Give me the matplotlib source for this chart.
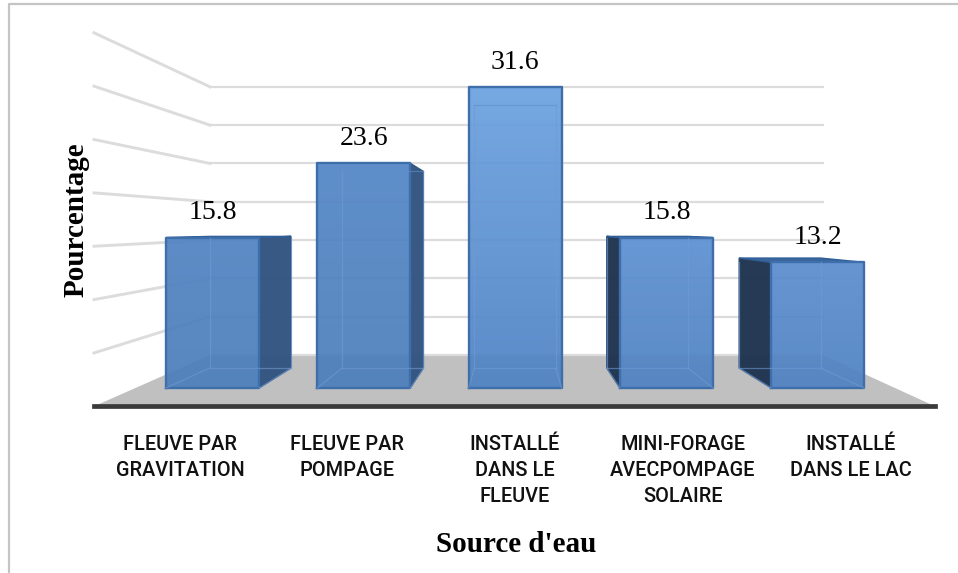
import numpy as np
import matplotlib
matplotlib.use('Agg')
import matplotlib.pyplot as plt
from matplotlib.colors import LinearSegmentedColormap

# Data
categories = ['FLEUVE PAR\nGRAVITATION', 'FLEUVE PAR\nPOMPAGE', 'INSTALLÉ\nDANS LE\nFLEUVE',
              'MINI-FORAGE\nAVECPOMPAGE\nSOLAIRE', 'INSTALLÉ\nDANS LE LAC']
values = [15.8, 23.6, 31.6, 15.8, 13.2]
grid_values = [0, 5, 10, 15, 20, 25, 30, 35]

# Layout: x is in pixels, y is in percent
W, H = 958, 573
px_per_unit = 9.52
base_px = 388
bar_left0 = 166
bar_step = 151.3
bar_width = 93
vp_x = 515
vp_bar = 16.8      # vanishing height of the bars, in percent
depth_bar = 0.875
label_x = [180, 347, 515, 683, 851]

top_colors = ['#5083c2', '#5386c6', '#6ba1e0', '#5c90d2', '#5a8dcf']
bottom_colors = ['#4c7eba', '#4c7eba', '#4f83c4', '#4f82c2', '#4f82c2']
edge = '#3f6fab'
grid_col = '#dcdcdc'


def depth_x(x, s):
    return vp_x + (x - vp_x) * s


def depth_y(v, s, vp=vp_bar):
    return vp + (v - vp) * s


def back_y(g):
    return depth_y(g, 0.805, 17.75)


def front_y(g):
    return depth_y(g, 1.121, 15.9)


def px_to_v(y):
    return (base_px - y) / px_per_unit


fig = plt.figure(figsize=(W / 100, H / 100), dpi=100)
ax = fig.add_axes([0, 0, 1, 1])
ax.set_xlim(0, W)
ax.set_ylim(px_to_v(H), px_to_v(0))
ax.axis('off')

# outer frame of the picture
ax.plot([9, 9, W], [px_to_v(H), px_to_v(4), px_to_v(4)], color='#c4c4c4', lw=1.6, zorder=1)

# floor
wall_left, wall_right = 94, 935
ax.fill([wall_left, 210, 823, wall_right],
        [front_y(0), back_y(0), back_y(0), front_y(0)],
        color='#c0c0c0', lw=0, zorder=1)
ax.plot([wall_left, wall_right], [front_y(0)] * 2, color='#3a3a3a', lw=3.4, zorder=2)

# gridlines on the back and left walls
for g in grid_values:
    ax.plot([210, 823], [back_y(g), back_y(g)], color=grid_col, lw=1.6, zorder=2)
    if g > 0:
        ax.plot([wall_left, 210], [front_y(g), back_y(g)], color=grid_col, lw=2.1, zorder=2)

# bars
for i, v in enumerate(values):
    x0 = bar_left0 + bar_step * i
    x1 = x0 + bar_width
    bx0, bx1 = depth_x(x0, depth_bar), depth_x(x1, depth_bar)
    by0, by1 = depth_y(0, depth_bar), depth_y(v, depth_bar)

    # side face, on the side away from the centre
    if i < 2:
        ax.fill([x1, bx1, bx1, x1], [0, by0, by1, v], facecolor='#31547f', edgecolor='#2f5380',
                lw=1, alpha=0.97, zorder=3)
    elif i > 2:
        ax.fill([x0, bx0, bx0, x0], [0, by0, by1, v], facecolor='#1f3350', edgecolor='#2b4a75',
                lw=1, alpha=0.97, zorder=3)
    # top face when it can be seen
    if by1 > v:
        ax.fill([x0, x1, bx1, bx0], [v, v, by1, by1], facecolor='#39659c', edgecolor='#2f5f98',
                lw=1, zorder=3)

    # front face with a soft vertical gradient
    cmap = LinearSegmentedColormap.from_list('bar', [bottom_colors[i], top_colors[i]])
    ax.imshow(np.linspace(1, 0, 64).reshape(-1, 1), cmap=cmap, vmin=0, vmax=1, aspect='auto',
              extent=(x0, x1, 0, v), alpha=0.93, zorder=4)
    ax.plot([x0, x1, x1, x0, x0], [0, 0, v, v, 0], color=edge, lw=1.7, zorder=5)

    # inner edges seen through the front face
    inner = '#6f9bd1'
    top_in = min(by1, v)
    ax.plot([bx0, bx0], [by0, top_in], color=inner, lw=0.9, alpha=0.6, zorder=5)
    ax.plot([bx1, bx1], [by0, top_in], color=inner, lw=0.9, alpha=0.6, zorder=5)
    ax.plot([bx0, bx1], [by0, by0], color=inner, lw=0.9, alpha=0.6, zorder=5)
    ax.plot([x0, bx0], [0, by0], color=inner, lw=0.9, alpha=0.6, zorder=5)
    ax.plot([x1, bx1], [0, by0], color=inner, lw=0.9, alpha=0.6, zorder=5)
    if by1 < v:
        ax.plot([bx0, bx1], [by1, by1], color='#5f8fca', lw=0.9, alpha=0.6, zorder=5)

    # value label
    ax.text(x0 + bar_width / 2, v + 1.3, f'{v:.1f}', ha='center', va='bottom',
            family='Liberation Serif', fontsize=20, color='black', zorder=6)

    # category label
    for k, line in enumerate(categories[i].split('\n')):
        ax.text(label_x[i], px_to_v(444 + 26 * k), line, ha='center', va='center',
                family='Roboto', weight='medium', fontsize=14.3, color='#111111', zorder=6)

ax.text(516, px_to_v(544), "Source d'eau", ha='center', va='center',
        family='Liberation Serif', weight='bold', fontsize=21, color='black')
ax.text(76, px_to_v(220), 'Pourcentage', ha='center', va='center', rotation=90,
        family='Liberation Serif', weight='bold', fontsize=21, color='black')

ax.set_xlim(0, W)
ax.set_ylim(px_to_v(H), px_to_v(0))
fig.savefig('out.png', dpi=100)
